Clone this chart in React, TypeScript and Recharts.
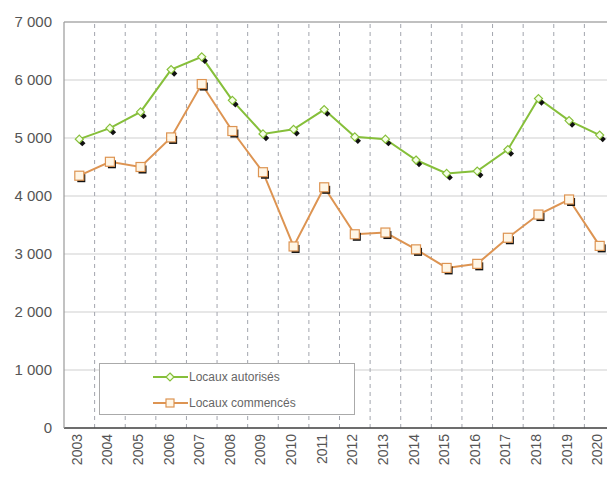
import React from "react";
import { LineChart, Line, XAxis, YAxis, CartesianGrid, ReferenceLine, Legend } from "recharts";

const years = ["2003","2004","2005","2006","2007","2008","2009","2010","2011","2012","2013","2014","2015","2016","2017","2018","2019","2020"];
const autorises = [4980, 5170, 5450, 6180, 6400, 5650, 5070, 5150, 5490, 5020, 4980, 4620, 4390, 4430, 4800, 5680, 5300, 5050];
const commences = [4350, 4590, 4500, 5010, 5930, 5120, 4410, 3130, 4150, 3340, 3370, 3080, 2760, 2830, 3280, 3680, 3940, 3140];
const yTicks = [0, 1000, 2000, 3000, 4000, 5000, 6000, 7000];

const GREEN = "#86bf3a";
const ORANGE = "#dd9452";

const data = years.map((y, i) => ({ i, year: y, autorises: autorises[i], commences: commences[i] }));
const bandEdges = years.map((_, i) => i + 0.5);

const fmt = (v: number) => (v >= 1000 ? `${Math.floor(v / 1000)} ${String(v % 1000).padStart(3, "0")}` : String(v));

const GreenDot = (props: any) => {
  const { cx, cy } = props;
  if (cx == null || cy == null) return null;
  const s = 4;
  const sh = 3.2;
  return (
    <g>
      <path d={`M${cx + 3},${cy + 4 - sh} L${cx + 3 + sh},${cy + 4} L${cx + 3},${cy + 4 + sh} L${cx + 3 - sh},${cy + 4} Z`} fill="#111" />
      <path d={`M${cx},${cy - s} L${cx + s},${cy} L${cx},${cy + s} L${cx - s},${cy} Z`} fill="#f6ffe8" stroke={GREEN} strokeWidth={1.2} />
    </g>
  );
};

const OrangeDot = (props: any) => {
  const { cx, cy } = props;
  if (cx == null || cy == null) return null;
  return (
    <g>
      <rect x={cx - 2} y={cy - 1.5} width={8} height={8} fill="#111" />
      <rect x={cx - 4.5} y={cy - 4.5} width={9} height={9} fill="#fff6e6" stroke={ORANGE} strokeWidth={1.2} />
    </g>
  );
};

const XTick = (props: any) => {
  const { x, payload } = props;
  return (
    <text
      transform={`translate(${x + 2.5},${434}) rotate(-90)`}
      textAnchor="end"
      fontSize={14}
      fill="#555"
      fontFamily="Liberation Sans, Arial, sans-serif"
    >
      {years[payload.value]}
    </text>
  );
};

const LegendContent = () => (
  <div
    style={{
      width: 256,
      height: 52,
      boxSizing: "border-box",
      border: "1px solid #aaa",
      background: "#fff",
    }}
  >
    <svg width={254} height={50} style={{ display: "block" }}>
      <line x1={53} y1={13} x2={88} y2={13} stroke={GREEN} strokeWidth={2} />
      <path d="M70,9 L74,13 L70,17 L66,13 Z" fill="#f6ffe8" stroke={GREEN} strokeWidth={1.2} />
      <text x={89} y={17} fontSize={12} fill="#666" fontFamily="Liberation Sans, Arial, sans-serif">Locaux autorisés</text>
      <line x1={53} y1={39} x2={88} y2={39} stroke={ORANGE} strokeWidth={2} />
      <rect x={66} y={35} width={8} height={8} fill="#fff6e6" stroke={ORANGE} strokeWidth={1.2} />
      <text x={89} y={43} fontSize={12} fill="#666" fontFamily="Liberation Sans, Arial, sans-serif">Locaux commencés</text>
    </svg>
  </div>
);

export default function App() {
  return (
    <div style={{ position: "fixed", left: 0, top: 0, width: 607, height: 478, overflow: "hidden", background: "#fff" }}>
      <LineChart width={620} height={478} data={data} margin={{ top: 22, right: 5, left: 0, bottom: 0 }}>
        <CartesianGrid vertical={false} stroke="#cfcfcf" strokeWidth={1} />
        {bandEdges.map((v) => (
          <ReferenceLine key={v} x={v} stroke="#a2a5ae" strokeDasharray="4 4" strokeWidth={1} />
        ))}
        <ReferenceLine y={7000} stroke="#999" strokeWidth={1.2} />
        <XAxis
          dataKey="i"
          type="number"
          domain={[-0.5, 17.5]}
          ticks={years.map((_, i) => i)}
          interval={0}
          height={50}
          tick={<XTick />}
          tickLine={false}
          axisLine={{ stroke: "#444", strokeWidth: 1.5 }}
        />
        <YAxis
          domain={[0, 7000]}
          ticks={yTicks}
          width={64}
          tickFormatter={fmt}
          tickLine={false}
          tickSize={0}
          tickMargin={12}
          axisLine={{ stroke: "#999", strokeWidth: 1.2 }}
          tick={{ fontSize: 15, fill: "#555", fontFamily: "Liberation Sans, Arial, sans-serif" }}
        />
        <Legend
          layout="vertical"
          align="center"
          verticalAlign="middle"
          content={<LegendContent />}
          wrapperStyle={{ position: "absolute", left: 99, top: 363, width: 256, height: 52 }}
        />
        <Line
          type="linear"
          dataKey="autorises"
          stroke={GREEN}
          strokeWidth={2}
          dot={<GreenDot />}
          isAnimationActive={false}
        />
        <Line
          type="linear"
          dataKey="commences"
          stroke={ORANGE}
          strokeWidth={2}
          dot={<OrangeDot />}
          isAnimationActive={false}
        />
      </LineChart>
    </div>
  );
}
